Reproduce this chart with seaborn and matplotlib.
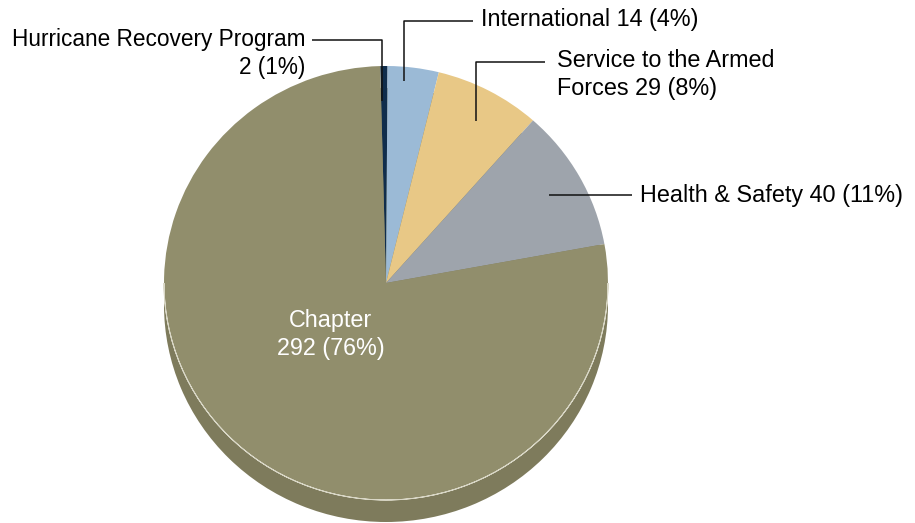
import matplotlib
matplotlib.use("Agg")
import matplotlib.pyplot as plt
import seaborn as sns
from matplotlib.patches import Rectangle, Wedge

# Data
categories = ["Hurricane Recovery Program", "International", "Service to the Armed Forces",
              "Health & Safety", "Chapter"]
counts = [2, 14, 29, 40, 292]
percents = [1, 4, 8, 11, 76]
colors = ["#0f2d4c", "#9bbad6", "#e8c886", "#9ea4ac", "#918e6c"]
side_color = "#7e7b5c"

sns.set_theme(style="white")
plt.rcParams["font.family"] = ["Liberation Sans", "DejaVu Sans"]

W, H = 915, 523
YS = 222 / 217  # slight vertical squash of the tilted disc


def px(x, y):
    # pixel position -> data coordinates
    return x, (H - y) * YS


fig = plt.figure(figsize=(W / 100, H / 100), dpi=100)
ax = fig.add_axes([0, 0, 1, 1])

cx, cy = px(386, 283)
r = 222
depth = 22 * YS

# extrusion (side of the disc)
ax.add_patch(Wedge((cx, cy - depth), r, 0, 360, color=side_color, lw=0))
ax.add_patch(Rectangle((cx - r, cy - depth), 2 * r, depth, color=side_color, lw=0))

wedges, _ = ax.pie(counts, colors=colors, startangle=91.5, counterclock=False,
                   center=(cx, cy), radius=r, frame=True,
                   wedgeprops=dict(linewidth=0))
ax.add_patch(Wedge((cx, cy), r, 180, 360, width=0, fill=False,
                   ec="#d9d7c6", lw=0.7))
ax.set_aspect("auto")
ax.set_xlim(0, W)
ax.set_ylim(0, H * YS)
ax.axis("off")

fs = 16.8
ls = 1.28
lc = "#111111"


def leader(points):
    xs, ys = zip(*[px(*p) for p in points])
    ax.plot(xs, ys, color=lc, lw=1.1, solid_capstyle="butt")


def label(x, y, s, ha="left", color="black", size=fs):
    # y is the baseline of the last line
    ax.text(*px(x, y), s, ha=ha, va="baseline", fontsize=size, linespacing=ls,
            multialignment=ha, color=color)


# Hurricane Recovery Program
leader([(312, 40), (382, 40), (382, 101)])
label(305, 74, f"{categories[0]}\n{counts[0]} ({percents[0]}%)", ha="right", size=16.3)
# International
leader([(473, 21), (404, 21), (404, 81)])
label(481, 26, f"{categories[1]} {counts[1]} ({percents[1]}%)")
# Service to the Armed Forces
leader([(545, 62), (476, 62), (476, 121)])
label(557, 95, f"Service to the Armed\nForces {counts[2]} ({percents[2]}%)")
# Health & Safety
leader([(549, 195), (632, 195)])
label(640, 202, f"{categories[3]} {counts[3]} ({percents[3]}%)")
# Chapter
label(331, 355, f"{categories[4]}\n{counts[4]} ({percents[4]}%)", ha="center", color="white")

fig.savefig("out.png", dpi=100)
